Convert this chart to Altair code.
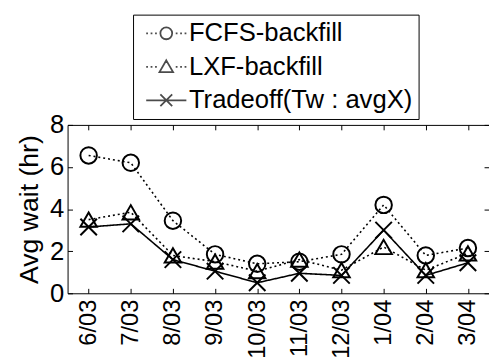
import altair as alt
import pandas as pd

months = ["6/03", "7/03", "8/03", "9/03", "10/03", "11/03", "12/03", "1/04", "2/04", "3/04"]
series = ["FCFS-backfill", "LXF-backfill", "Tradeoff(Tw : avgX)"]
fcfs = [6.55, 6.2, 3.45, 1.85, 1.4, 1.5, 1.85, 4.2, 1.8, 2.15]
lxf = [3.5, 3.85, 1.8, 1.5, 1.05, 1.6, 1.1, 2.2, 1.1, 1.9]
trade = [3.15, 3.3, 1.6, 1.05, 0.5, 0.95, 0.85, 3.0, 0.85, 1.45]
y_ticks = [0, 2, 4, 6, 8]
y_title = "Avg wait (hr)"

rows = []
for name, vals in zip(series, [fcfs, lxf, trade]):
    for m, v in zip(months, vals):
        rows.append({"month": m, "series": name, "wait": v})
df = pd.DataFrame(rows)

W, H = 428, 171
FONT = "Liberation Sans"

x_path = "M-1,-1L1,1M-1,1L1,-1"
leg_circle = ("M-3.4,0h0.3M-2.65,0h0.3M-1.9,0h0.3"
              "M1,0A1,1,0,1,1,-1,0A1,1,0,1,1,1,0"
              "M1.6,0h0.3M2.35,0h0.3M3.1,0h0.3")
leg_tri = ("M-3.4,0h0.3M-2.65,0h0.3M-1.9,0h0.3"
           "M0,-1.1L1.15,0.9L-1.15,0.9Z"
           "M1.6,0h0.3M2.35,0h0.3M3.1,0h0.3")
leg_x = "M-3.4,0H3.4M-1,-1L1,1M-1,1L1,-1"

base = alt.Chart(df)

x_main = alt.X("month:N", sort=months, title=None,
               axis=alt.Axis(orient="bottom", labelAngle=-90, ticks=False, grid=False,
                             labelFontSize=24, labelPadding=6, labelFont=FONT,
                             labelColor="black", domainColor="black"))
y_scale = alt.Scale(domain=[0, 8], nice=False)
y_main = alt.Y("wait:Q", scale=y_scale, title=y_title,
               axis=alt.Axis(orient="left", values=y_ticks, ticks=False, grid=False,
                             labelFontSize=26, labelPadding=4, labelFont=FONT,
                             labelColor="black", domainColor="black",
                             titleFont=FONT, titleFontSize=27, titleFontWeight="normal",
                             titleColor="black", titlePadding=6))
x_plain = alt.X("month:N", sort=months, axis=None)
y_plain = alt.Y("wait:Q", scale=y_scale, axis=None)

lines = base.mark_line(color="black").encode(
    x=x_main, y=y_main,
    detail="series:N",
    strokeDash=alt.StrokeDash("series:N", scale=alt.Scale(domain=series, range=[[2, 3], [2, 3], [1, 0]]), legend=None),
    strokeWidth=alt.StrokeWidth("series:N", scale=alt.Scale(domain=series, range=[1.6, 1.6, 2.4]), legend=None),
)

points = base.mark_point(filled=False, color="black", strokeWidth=2, size=280, opacity=1).encode(
    x=x_plain, y=y_plain,
    shape=alt.Shape("series:N", scale=alt.Scale(domain=series, range=["circle", "triangle-up", x_path]), legend=None),
)

legend_layer = base.transform_filter("datum.wait < -100").mark_point(
    filled=False, color="black", strokeWidth=1.8, size=144).encode(
    x=x_plain, y=y_plain,
    shape=alt.Shape("series:N",
                    scale=alt.Scale(domain=series, range=[leg_circle, leg_tri, leg_x]),
                    legend=alt.Legend(title=None, orient="none", legendX=66.5, legendY=-112,
                                      labelFont=FONT, labelFontSize=26, labelColor="black",
                                      labelLimit=400, symbolSize=144, symbolStrokeWidth=1.8,
                                      symbolStrokeColor="black", symbolOffset=14.75,
                                      labelOffset=10, rowPadding=8, padding=6,
                                      strokeColor="black", fillColor="white")),
)

tick_top = base.mark_point(opacity=0).encode(
    x=alt.X("month:N", sort=months, title=None,
            axis=alt.Axis(orient="bottom", offset=-H, labels=False, tickSize=5, grid=False,
                          tickColor="black", domainColor="black")),
    y=y_plain)
tick_bottom = base.mark_point(opacity=0).encode(
    x=alt.X("month:N", sort=months, title=None,
            axis=alt.Axis(orient="top", offset=-H, labels=False, tickSize=5, grid=False,
                          tickColor="black", domain=False)),
    y=y_plain)
tick_left = base.mark_point(opacity=0).encode(
    x=x_plain,
    y=alt.Y("wait:Q", scale=y_scale, title=None,
            axis=alt.Axis(orient="right", offset=-W, values=y_ticks, labels=False, grid=False,
                          tickSize=5, tickColor="black", domain=False)))
tick_right = base.mark_point(opacity=0).encode(
    x=x_plain,
    y=alt.Y("wait:Q", scale=y_scale, title=None,
            axis=alt.Axis(orient="left", offset=-W, values=y_ticks, labels=False, grid=False,
                          tickSize=5, tickColor="black", domain=False)))

chart = alt.layer(lines, points, legend_layer, tick_top, tick_bottom, tick_left, tick_right).resolve_scale(
    shape="independent"
).properties(
    width=W, height=H,
    autosize=alt.AutoSizeParams(type="none"),
    padding={"left": 60.5, "top": 116, "right": 0, "bottom": 64},
    background="white",
).configure_view(stroke=None).configure_axis(grid=False)

chart.save("out.html", embed_options={"renderer": "svg", "actions": False})
